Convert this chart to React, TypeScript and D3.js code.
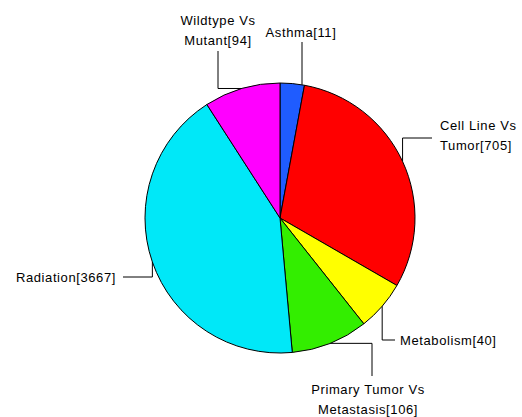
import React from 'react'
import * as d3 from 'd3'

// Slice categories, the counts printed in the labels, and the share of the pie each slice takes
const categories = ['Asthma', 'Cell Line Vs Tumor', 'Metabolism', 'Primary Tumor Vs Metastasis', 'Radiation', 'Wildtype Vs Mutant']
const counts = [11, 705, 40, 106, 3667, 94]
const shares = [2.9, 30.4, 6.0, 9.2, 42.3, 9.1]
const colors = ['#1f5cff', '#ff0000', '#ffff00', '#33ee00', '#00e8f8', '#ff00ff']

// Label text lines
const labelLines = [
  ['Asthma[11]'],
  ['Cell Line Vs', 'Tumor[705]'],
  ['Metabolism[40]'],
  ['Primary Tumor Vs', 'Metastasis[106]'],
  ['Radiation[3667]'],
  ['Wildtype Vs', 'Mutant[94]'],
]

// label layout: text anchor point, alignment, leader end and which way the leader leaves the pie
const labelLayout = [
  { x: 301, y: 32, anchor: 'middle', end: [302, 42], first: 'x' },
  { x: 440, y: 125, anchor: 'start', end: [432, 138], first: 'v' },
  { x: 400, y: 340, anchor: 'start', end: [395, 340], first: 'v' },
  { x: 368, y: 389, anchor: 'middle', end: [372, 376], first: 'h' },
  { x: 116, y: 277, anchor: 'end', end: [123, 277], first: 'v' },
  { x: 218, y: 20, anchor: 'middle', end: [218, 51], first: 'h' },
]

const width = 522
const height = 417
const cx = 280
const cy = 218
const radius = 135

export default function App() {
  const pie = d3.pie<number>().sort(null).value(d => d)
  const arcs = pie(shares)
  const arc = d3.arc<d3.PieArcDatum<number>>().innerRadius(0).outerRadius(radius)

  return (
    <svg width={width} height={height} style={{ position: 'absolute', left: 0, top: 0, background: '#fff' }}
      fontFamily="'Liberation Sans', Arial, sans-serif" fontSize={13}>
      <rect width={width} height={height} fill="#fff" />
      <g transform={`translate(${cx},${cy})`}>
        {arcs.map((a, i) => (
          <path key={categories[i]} d={arc(a) || ''} fill={colors[i]} stroke="#000" strokeWidth={1} />
        ))}
      </g>
      {arcs.map((a, i) => {
        const mid = (a.startAngle + a.endAngle) / 2
        const lay = labelLayout[i]
        let sx = cx + radius * Math.sin(mid)
        let sy = cy - radius * Math.cos(mid)
        const ey = lay.end[1]
        const ex = lay.end[0]
        let elbow = [sx, ey]
        if (lay.first === 'x') {
          // straight vertical leader at a fixed x, starting on the rim
          sx = ex
          sy = cy - Math.sqrt(radius * radius - (ex - cx) * (ex - cx))
          elbow = [ex, ey]
        } else if (lay.first === 'h') {
          elbow = [ex, sy]
        }
        const pts = `${sx},${sy} ${elbow[0]},${elbow[1]} ${ex},${ey}`
        return (
          <g key={'lab' + i}>
            <polyline points={pts} fill="none" stroke="#000" strokeWidth={1} />
            <text x={lay.x} y={lay.y} textAnchor={lay.anchor as any} dominantBaseline="central"
              letterSpacing={0.6} fill="#000">
              {labelLines[i].map((t, j) => (
                <tspan key={j} x={lay.x} dy={j === 0 ? 0 : 20}>{t}</tspan>
              ))}
            </text>
          </g>
        )
      })}
    </svg>
  )
}
